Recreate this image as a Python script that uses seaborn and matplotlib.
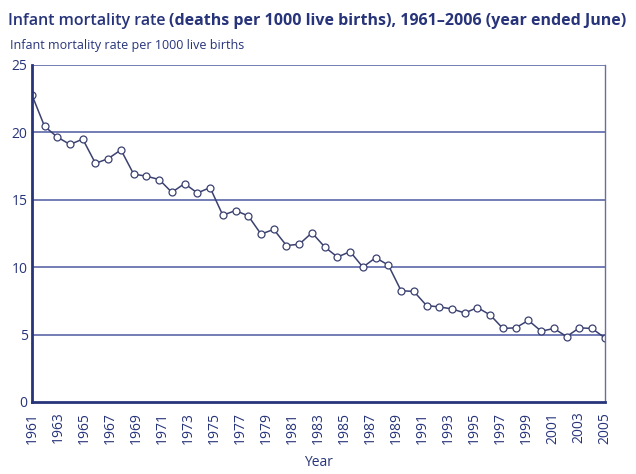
import matplotlib
matplotlib.use("Agg")
import matplotlib.pyplot as plt
import numpy as np
import pandas as pd
import seaborn as sns

# infant mortality per 1000 live births, year ended June
years = list(range(1961, 2007))
rates = [22.8, 20.45, 19.65, 19.1, 19.5, 17.7, 18.05, 18.7, 16.9, 16.75,
         16.5, 15.55, 16.2, 15.5, 15.9, 13.85, 14.2, 13.8, 12.45, 12.8,
         11.6, 11.7, 12.55, 11.5, 10.75, 11.15, 10.0, 10.7, 10.15, 8.25,
         8.2, 7.15, 7.05, 6.9, 6.6, 7.0, 6.45, 5.45, 5.5, 6.05,
         5.25, 5.45, 4.85, 5.5, 5.45, 4.75]
tick_labels = [str(y) for y in range(1961, 2006, 2)]
y_ticks = [0, 5, 10, 15, 20, 25]

df = pd.DataFrame({"Year": years, "Rate": rates})

navy = "#27347a"
grid_col = "#4d58a0"

sns.set_style("white")
plt.rcParams["font.family"] = ["Open Sans", "DejaVu Sans"]

fig = plt.figure(figsize=(6.36, 4.74), dpi=100)
ax = fig.add_axes([0.050, 0.152, 0.901, 0.711])

for v in y_ticks[1:]:
    ax.axhline(v, color=grid_col, lw=1.1, zorder=0)

sns.lineplot(data=df, x="Year", y="Rate", ax=ax, color="#3a4170", lw=1.1,
             marker="o", markersize=5, markerfacecolor="white",
             markeredgecolor="#3a4170", markeredgewidth=0.9)

ax.set_xlim(1961, 2006)
ax.set_ylim(0, 25)
ax.set_yticks(y_ticks)
ax.set_yticklabels([str(v) for v in y_ticks], color=navy, fontsize=10)

# labels are spread evenly over the full span, as in the original
ax.set_xticks(np.linspace(1961, 2006, len(tick_labels)))
ax.set_xticklabels(tick_labels, rotation=90, color=navy, fontsize=10)
ax.set_xticks(years, minor=True)
ax.tick_params(axis="x", which="major", length=4, width=1.2, color=navy, pad=3)
ax.tick_params(axis="x", which="minor", length=3, width=1.0, color=navy)
ax.tick_params(axis="y", length=0, pad=3)

for side in ["left", "bottom"]:
    ax.spines[side].set_color(navy)
    ax.spines[side].set_linewidth(2.0)
ax.spines["right"].set_color("#6a6f9a")
ax.spines["right"].set_linewidth(1.0)
ax.spines["top"].set_visible(False)

ax.set_xlabel("Year", color=navy, fontsize=10, labelpad=8)
ax.set_ylabel("")

t1 = fig.text(0.012, 0.972, "Infant mortality rate ", color=navy, fontsize=11.5,
              fontweight="semibold", va="top", ha="left")
fig.canvas.draw()
bb = t1.get_window_extent().transformed(fig.transFigure.inverted())
fig.text(bb.x1, 0.972, "(deaths per 1000 live births), 1961\u20132006 (year ended June)",
         color=navy, fontsize=11.5, fontweight="bold", va="top", ha="left")
fig.text(0.015, 0.918, "Infant mortality rate per 1000 live births",
         color=navy, fontsize=9, va="top", ha="left")

fig.savefig("out.png", dpi=100)
